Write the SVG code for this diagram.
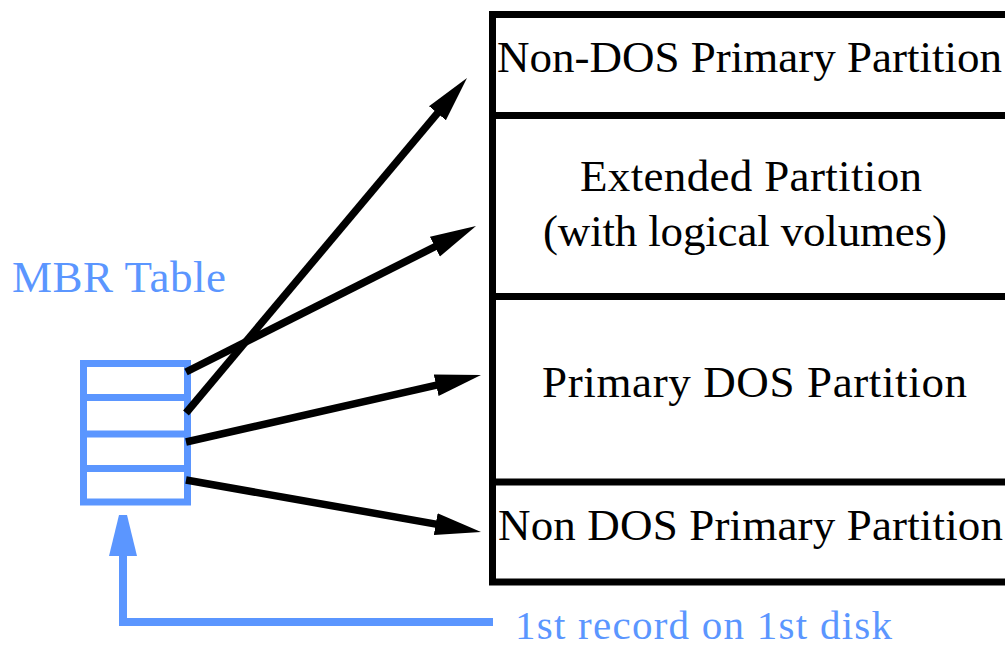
<svg xmlns="http://www.w3.org/2000/svg" width="1005" height="648" viewBox="0 0 1005 648">
  <style>
    .part { fill: none; stroke: #000; stroke-width: 7; }
    .mbr { fill: none; stroke: #5b96ff; stroke-width: 7; }
    .txt { font-family: "Liberation Serif", "Times New Roman", serif; font-size: 45px; fill: #000; }
    .blue { font-family: "Liberation Serif", "Times New Roman", serif; font-size: 41px; fill: #5b96ff; }
    .title { font-size: 45px; }
    .link { fill: none; stroke: #000; stroke-width: 7.5; marker-end: url(#head); }
  </style>
  <defs>
    <marker id="head" markerUnits="userSpaceOnUse" viewBox="0 -12 48 24" markerWidth="48" markerHeight="24" refX="6" refY="0" orient="auto">
      <path d="M0,-11 L46,0 L0,11 Z" fill="#000"/>
    </marker>
  </defs>
  <rect width="1005" height="648" fill="#fff"/>

  <!-- Disk layout: stacked partitions -->
  <g id="disk">
    <rect class="part" x="492.5" y="14.5" width="530" height="567.5"/>
    <line class="part" x1="489" y1="115.5" x2="1010" y2="115.5"/>
    <line class="part" x1="489" y1="296.5" x2="1010" y2="296.5"/>
    <line class="part" x1="489" y1="482" x2="1010" y2="482"/>
  </g>
  <g id="part-nondos-1">
    <text class="txt" x="497" y="72" textLength="505" lengthAdjust="spacing">Non-DOS Primary Partition</text>
  </g>
  <g id="part-extended">
    <text class="txt" x="580" y="191" textLength="342" lengthAdjust="spacing">Extended Partition</text>
    <text class="txt" x="543" y="246" textLength="404" lengthAdjust="spacing">(with logical volumes)</text>
  </g>
  <g id="part-primary-dos">
    <text class="txt" x="542" y="397" textLength="425" lengthAdjust="spacing">Primary DOS Partition</text>
  </g>
  <g id="part-nondos-2">
    <text class="txt" x="498" y="540" textLength="505" lengthAdjust="spacing">Non DOS Primary Partition</text>
  </g>

  <!-- Master boot record with four entries -->
  <g id="mbr">
    <text class="blue title" x="12" y="292" textLength="214" lengthAdjust="spacing">MBR Table</text>
    <rect class="mbr" x="83.5" y="363.5" width="104" height="138.5"/>
    <line class="mbr" x1="80" y1="397.5" x2="191" y2="397.5"/>
    <line class="mbr" x1="80" y1="434" x2="191" y2="434"/>
    <line class="mbr" x1="80" y1="468.5" x2="191" y2="468.5"/>
  </g>
  <g id="first-record">
    <text class="blue" x="515" y="639" textLength="377" lengthAdjust="spacing">1st record on 1st disk</text>
  </g>

  <!-- Connectors -->
  <g id="connectors">
    <line class="link" x1="186" y1="413" x2="441.3" y2="108.6"/>
    <line class="link" x1="186" y1="372" x2="440.3" y2="244"/>
    <line class="link" x1="186" y1="442" x2="442" y2="383.9"/>
    <line class="link" x1="186" y1="480" x2="441.6" y2="525.1"/>
    <polyline points="493,622 123,622 123,548" fill="none" stroke="#5b96ff" stroke-width="8" stroke-linejoin="miter"/>
    <polygon points="119,515 127,515 137,556 109,556" fill="#5b96ff"/>
  </g>
</svg>
